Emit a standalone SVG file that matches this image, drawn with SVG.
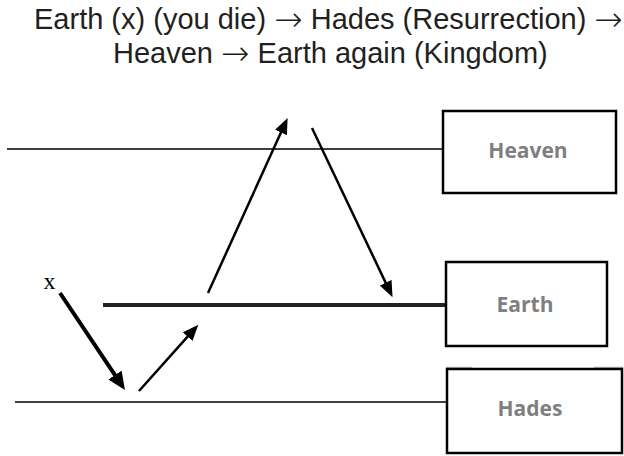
<svg xmlns="http://www.w3.org/2000/svg" width="624" height="456" viewBox="0 0 624 456">
<style>
.title{font-family:"Liberation Sans",Arial,sans-serif;font-size:29px;fill:#231f20}
.ar{font-family:"DejaVu Sans",sans-serif;font-weight:200;font-size:34px}
.lbl{font-family:"Open Sans","Liberation Sans",sans-serif;font-weight:700;font-size:21px;fill:#7f7f7f;text-anchor:middle}
.box{fill:#fff;stroke:#000;stroke-width:2.5}
.lvl{stroke:#000;stroke-width:1.5}
.arr{stroke:#000;stroke-width:2.5;fill:none}
</style>
<defs>
<marker id="ah" markerUnits="userSpaceOnUse" orient="auto" refX="1" refY="6.5" markerWidth="16" markerHeight="13"><path d="M0,0 L16,6.5 L0,13 z" fill="#000"/></marker>
<marker id="ahb" markerUnits="userSpaceOnUse" orient="auto" refX="1" refY="8" markerWidth="18" markerHeight="16"><path d="M0,0 L18,8 L0,16 z" fill="#000"/></marker>
</defs>
<g id="title">
<text class="title" x="34" y="29">Earth (x) (you die) <tspan class="ar" dy="2">→</tspan><tspan dy="-2"> Hades (Resurrection) </tspan><tspan class="ar" dy="2">→</tspan></text>
<text class="title" x="113" y="63">Heaven <tspan class="ar" dy="2">→</tspan><tspan dy="-2"> Earth again (Kingdom)</tspan></text>
</g>
<g id="heaven">
<line class="lvl" x1="7" y1="149" x2="443" y2="149"/>
<rect class="box" x="443" y="111" width="173" height="82"/>
<text class="lbl" x="528" y="158">Heaven</text>
</g>
<g id="earth">
<line x1="103" y1="305" x2="446" y2="305" stroke="#231f20" stroke-width="4"/>
<rect class="box" x="446" y="262" width="161" height="84"/>
<text class="lbl" x="525" y="312">Earth</text>
</g>
<g id="hades">
<line class="lvl" x1="15" y1="402" x2="447" y2="402"/>
<line x1="446" y1="367.5" x2="472" y2="367.5" stroke="#bbb" stroke-width="1.5"/>
<line x1="594" y1="367.5" x2="623" y2="367.5" stroke="#bbb" stroke-width="1.5"/>
<rect class="box" x="447" y="369" width="175" height="84"/>
<text class="lbl" x="530" y="416">Hades</text>
</g>
<g id="x">
<text x="49.5" y="289" font-family="Liberation Serif,serif" font-size="24" text-anchor="middle">x</text>
</g>
<g id="connectors">
<line x1="60" y1="293" x2="115.5" y2="375.9" stroke="#000" stroke-width="4" marker-end="url(#ahb)"/>
<line class="arr" x1="139" y1="391" x2="188.3" y2="335.9" marker-end="url(#ah)"/>
<line class="arr" x1="208" y1="293" x2="281.4" y2="131.6" marker-end="url(#ah)"/>
<line class="arr" x1="312" y1="128" x2="386.1" y2="283.6" marker-end="url(#ah)"/>
</g>
</svg>
